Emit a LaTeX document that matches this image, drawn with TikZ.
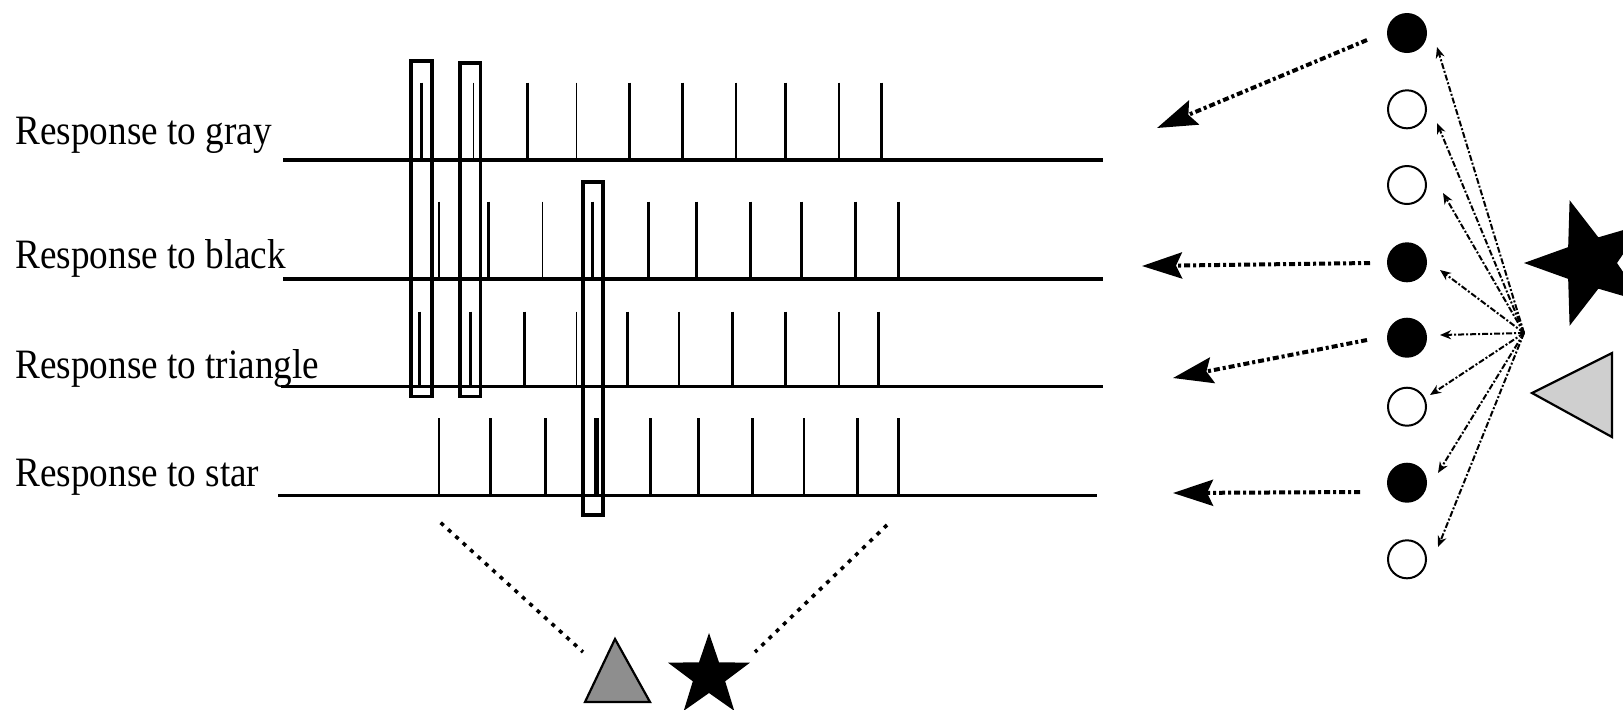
\documentclass[tikz,border=0pt]{standalone}
\usepackage{fontspec}
\setmainfont{Liberation Serif}
\usetikzlibrary{arrows.meta}
\definecolor{lightgr}{HTML}{CFCFCF}
\definecolor{midgr}{HTML}{8E8E8E}
\begin{document}
\begin{tikzpicture}[x=0.5pt,y=-0.5pt,
  trainline/.style={line width=1.75pt},
  thickspike/.style={line width=1.5pt},
  thinspike/.style={line width=0.7pt},
  fatspike/.style={line width=2.6pt},
  selbox/.style={draw, line width=1.6pt},
  lbl/.style={anchor=base west, inner sep=0pt, font=\fontsize{20.9}{25}\selectfont},
  fullcell/.style={circle, fill=black, minimum size=20pt, inner sep=0pt},
  emptycell/.style={circle, draw=black, line width=1pt, fill=white, minimum size=19pt, inner sep=0pt},
  bigarrow/.style={line width=2pt, dash pattern=on 3pt off 1.5pt on 1.5pt off 1.5pt, -{Stealth[length=20pt,width=13pt,inset=3pt]}},
  fanarrow/.style={line width=1pt, dash pattern=on 3pt off 1pt on 1pt off 1pt, -{Stealth[length=5.5pt,width=4.5pt]}},
  guideline/.style={line width=1.8pt, dash pattern=on 2pt off 3pt}
]
\useasboundingbox (0,0) rectangle (1623,709);

% labels
\node[lbl] (lg) at (15,144.3) {\scalebox{0.89}[1]{Response to gray}};
\node[lbl] (lb) at (15,268.3) {\scalebox{0.89}[1]{Response to black}};
\node[lbl] (lt) at (15,378.3) {\scalebox{0.89}[1]{Response to triangle}};
\node[lbl] (ls) at (15,486.7) {\scalebox{0.89}[1]{Response to star}};

% train base lines
\draw[trainline] (283,160) -- (1103,160);
\draw[trainline] (283,279) -- (1103,279);
\draw[trainline] (281,386.7) -- (1103,386.7);
\draw[trainline] (278,495.7) -- (1097,495.7);

% spikes: gray
\foreach \x/\s in {421.7/thickspike,473.5/thinspike,527.4/thickspike,576.3/thinspike,629.7/thickspike,682.4/thickspike,735.8/thinspike,785.2/thickspike,839/thinspike,881/thickspike}
  \draw[\s] (\x,82.7) -- (\x,160);
% spikes: black
\foreach \x/\s in {439/thinspike,488/thickspike,542.3/thinspike,592.8/thickspike,648/thickspike,696/thickspike,750.8/thickspike,801/thickspike,855.6/thickspike,898.8/thickspike}
  \draw[\s] (\x,201.7) -- (\x,279);
% spikes: triangle
\foreach \x/\s in {419.6/thickspike,470.2/thickspike,524.5/thickspike,576.3/thinspike,627.3/thickspike,679/thinspike,732.5/thickspike,785.2/thickspike,839/thinspike,878.4/thickspike}
  \draw[\s] (\x,311.7) -- (\x,386.7);
% spikes: star
\foreach \x/\s in {439/thinspike,490.9/thickspike,545.6/thickspike,596.6/fatspike,650/thickspike,698/thickspike,752.8/thickspike,804/thinspike,857.7/thickspike,898.8/thickspike}
  \draw[\s] (\x,418.3) -- (\x,495.7);

% selection boxes
\draw[selbox] (411,61) rectangle (432,396.7);
\draw[selbox] (460,63) rectangle (480.5,396.7);
\draw[selbox] (583,182) rectangle (603,515);

% cells
\node[fullcell] (c1) at (1407,33) {};
\node[emptycell] (c2) at (1407,109.3) {};
\node[emptycell] (c3) at (1407,185) {};
\node[fullcell] (c4) at (1407,262.3) {};
\node[fullcell] (c5) at (1407,337.7) {};
\node[emptycell] (c6) at (1407,406.7) {};
\node[fullcell] (c7) at (1407,482.7) {};
\node[emptycell] (c8) at (1407,559.3) {};

% fan from stimulus
\coordinate (o) at (1524,333);
\coordinate (t1) at (1437,47);
\coordinate (t2) at (1437,123);
\coordinate (t3) at (1443,193);
\coordinate (t4) at (1440,270);
\coordinate (t5) at (1440,335);
\coordinate (t6) at (1430,395);
\coordinate (t7) at (1438,473);
\coordinate (t8) at (1438,547);
\foreach \t in {t1,t2,t3,t4,t5,t6,t7,t8}
  \draw[fanarrow] (o) -- (\t);

% output arrows
\coordinate (s1) at (1367,40);   \coordinate (e1) at (1157,128);
\coordinate (s4) at (1370,263);  \coordinate (e4) at (1142,266);
\coordinate (s5) at (1367,340);  \coordinate (e5) at (1173,378);
\coordinate (s7) at (1360,492);  \coordinate (e7) at (1173,493);
\draw[bigarrow] (s1) -- (e1);
\draw[bigarrow] (s4) -- (e4);
\draw[bigarrow] (s5) -- (e5);
\draw[bigarrow] (s7) -- (e7);

% right stimuli
\begin{scope}[shift={(1590,263)}]
  \fill[black] (180:66) \foreach \i in {0,...,4}{ -- (180+72*\i:66) -- (216+72*\i:27)} -- cycle;
\end{scope}
\filldraw[fill=lightgr, draw=black, line width=1.1pt] (1532,393) -- (1612,353) -- (1612,437) -- cycle;

% bottom stimuli
\filldraw[fill=midgr, draw=black, line width=1.1pt] (615,639) -- (585,702) -- (650,702) -- cycle;
\begin{scope}[shift={(709,676)}]
  \fill[black] (270:43) \foreach \i in {0,...,4}{ -- (270+72*\i:43) -- (306+72*\i:17)} -- cycle;
\end{scope}

% guide lines
\coordinate (g1a) at (440.7,522.7); \coordinate (g1b) at (583,652);
\coordinate (g2a) at (887,525);     \coordinate (g2b) at (755,652);
\draw[guideline] (g1a) -- (g1b);
\draw[guideline] (g2a) -- (g2b);
\end{tikzpicture}
\end{document}
